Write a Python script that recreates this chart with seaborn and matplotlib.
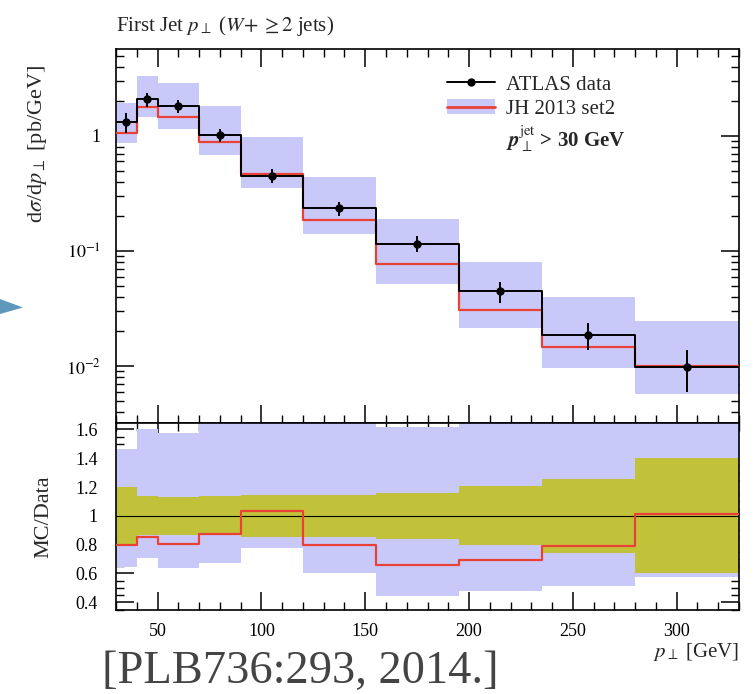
import numpy as np
import matplotlib
matplotlib.use("Agg")
import matplotlib.pyplot as plt
from matplotlib.lines import Line2D
from matplotlib.patches import Patch, Polygon
from matplotlib.ticker import FixedLocator, MultipleLocator, LogLocator, FuncFormatter, NullFormatter
import seaborn as sns

# Binning of the leading-jet transverse momentum [GeV]
bin_edges = [30, 40, 50, 70, 90, 120, 155, 195, 235, 280, 330]

# ATLAS measurement, dsigma/dpT [pb/GeV], with total uncertainty
data_vals = [1.33, 2.08, 1.82, 1.02, 0.452, 0.235, 0.116, 0.0446, 0.0187, 0.00986]
data_errs = [0.266, 0.281, 0.237, 0.138, 0.0655, 0.0341, 0.0186, 0.00914, 0.00477, 0.00394]

# JH 2013 set2 prediction and its uncertainty envelope
mc_vals = [1.064, 1.768, 1.465, 0.895, 0.468, 0.187, 0.0768, 0.0308, 0.01477, 0.00998]
mc_up = [1.948, 3.33, 2.87, 1.83, 0.986, 0.437, 0.188, 0.0798, 0.0401, 0.0248]
mc_dn = [0.861, 1.466, 1.157, 0.683, 0.350, 0.141, 0.0514, 0.0214, 0.00957, 0.00567]

# Axis tick labels
x_ticks = [50, 100, 150, 200, 250, 300]
ratio_ticks = [0.4, 0.6, 0.8, 1.0, 1.2, 1.4, 1.6]
ratio_tick_labels = ["0.4", "0.6", "0.8", "1", "1.2", "1.4", "1.6"]

LAVENDER = "#c9c9f9"
OLIVE = "#c2c23a"
RED = "#ea4136"

sns.set_theme(style="ticks")
plt.rcParams["font.family"] = ["Liberation Serif", "DejaVu Serif"]
plt.rcParams["mathtext.fontset"] = "stix"

edges = np.array(bin_edges, dtype=float)
centers = 0.5 * (edges[:-1] + edges[1:])
data = np.array(data_vals)
derr = np.array(data_errs)
mc = np.array(mc_vals)
up = np.array(mc_up)
dn = np.array(mc_dn)


def ext(v):
    return np.append(v, v[-1])


W, H = 755, 694
fig = plt.figure(figsize=(W / 100, H / 100), dpi=100)
L, R = 116, 739
T, M, B = 49, 423, 609.5
ax = fig.add_axes([L / W, 1 - M / H, (R - L) / W, (M - T) / H])
rax = fig.add_axes([L / W, 1 - B / H, (R - L) / W, (B - M) / H], sharex=ax)

# ---- main panel ----
ax.set_yscale("log")
ax.fill_between(edges, ext(dn), ext(up), step="post", color=LAVENDER, lw=0, zorder=1)
sns.lineplot(x=edges, y=ext(mc), drawstyle="steps-post", color=RED, lw=1.6, ax=ax, zorder=3)
sns.lineplot(x=edges, y=ext(data), drawstyle="steps-post", color="black", lw=1.4, ax=ax, zorder=4)
ax.errorbar(centers, data, yerr=derr, fmt="o", color="black", ms=5, elinewidth=1.4,
            capsize=0, zorder=5)

ax.set_xlim(30, 330)
ax.set_ylim(3.2e-3, 5.7)
ax.yaxis.set_major_locator(FixedLocator([1e-2, 1e-1, 1]))
ax.yaxis.set_minor_locator(LogLocator(base=10, subs=np.arange(2, 10)))
ax.yaxis.set_minor_formatter(NullFormatter())
ax.yaxis.set_major_formatter(FuncFormatter(
    lambda v, p: "1" if np.isclose(v, 1) else r"$10^{%d}$" % round(np.log10(v))))
ax.set_ylabel(r"d$\sigma$/d$p_\perp$ [pb/GeV]", fontsize=16)
ax.yaxis.set_label_coords(-0.108, 0.745)
ax.tick_params(labelbottom=False)
ax.text(0.0, 1.03, r"First Jet $p_\perp$ ($W\!+\geq 2$ jets)", transform=ax.transAxes,
        ha="left", va="bottom", fontsize=15)

handles = [
    Line2D([], [], color="black", lw=1.4, marker="o", ms=5),
    (Patch(facecolor=LAVENDER, edgecolor="none"), Line2D([], [], color=RED, lw=2)),
    Line2D([], [], color="none"),
]
labels = ["ATLAS data", "JH 2013 set2", r"$\mathbfit{p}_\perp^{\rm jet}$ > 30 GeV"]
leg = ax.legend(handles, labels, loc="upper left", bbox_to_anchor=(0.532, 0.93),
                frameon=False, fontsize=15, handlelength=2.3, handletextpad=0.5,
                labelspacing=0.22, borderpad=0, borderaxespad=0, handleheight=0.7)
leg.get_texts()[2].set_fontweight("bold")

# ---- ratio panel ----
rax.fill_between(edges, ext(dn / data), ext(up / data), step="post", color=LAVENDER, lw=0, zorder=1)
rel = derr / data
rax.fill_between(edges, ext(1 - rel), ext(1 + rel), step="post", color=OLIVE, lw=0, zorder=2)
rax.axhline(1.0, color="black", lw=0.8, zorder=3)
sns.lineplot(x=edges, y=ext(mc / data), drawstyle="steps-post", color=RED, lw=1.6, ax=rax, zorder=4)
rax.set_ylim(0.35, 1.645)
rax.yaxis.set_major_locator(FixedLocator(ratio_ticks))
rax.set_yticklabels(ratio_tick_labels)
rax.yaxis.set_minor_locator(MultipleLocator(0.05))
rax.set_ylabel("MC/Data", fontsize=16)
rax.yaxis.set_label_coords(-0.1, 0.5)
rax.xaxis.set_major_locator(FixedLocator(x_ticks))
rax.xaxis.set_minor_locator(MultipleLocator(10))
rax.set_xlabel(r"$p_\perp$ [GeV]", fontsize=15)
rax.xaxis.set_label_coords(1.0, -0.17)
rax.xaxis.label.set_ha("right")

for a in (ax, rax):
    a.tick_params(which="both", direction="in", top=True, right=True, colors="black")
    a.tick_params(which="major", length=13, width=1.1, labelsize=13)
    a.tick_params(which="minor", length=6, width=1.0)
    for s in a.spines.values():
        s.set_linewidth(1.2)
        s.set_color("black")
ax.tick_params(axis="y", which="major", pad=11)
rax.tick_params(axis="y", which="major", pad=13)
rax.tick_params(axis="x", which="major", pad=10)

# citation and pointer
fig.text(102 / W, 1 - 683 / H, "[PLB736:293, 2014.]", fontsize=33.5, color="#444444",
         ha="left", va="baseline")
tri = Polygon([[0 / W, 1 - 299 / H], [23 / W, 1 - 307.5 / H], [0 / W, 1 - 314 / H]],
              closed=True, transform=fig.transFigure, facecolor="#4f8db5",
              edgecolor="none", alpha=0.9)
fig.patches.append(tri)

fig.savefig("out.png", dpi=100)
